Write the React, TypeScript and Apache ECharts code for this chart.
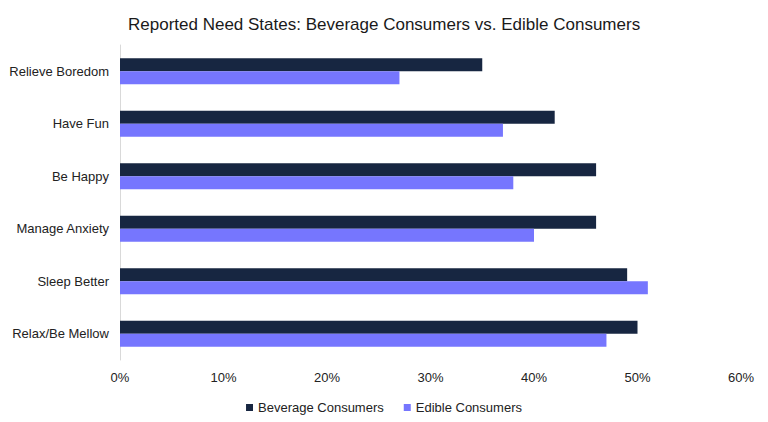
import React, { useRef, useEffect } from 'react';
import * as echarts from 'echarts';

const categories = [
  'Relieve Boredom',
  'Have Fun',
  'Be Happy',
  'Manage Anxiety',
  'Sleep Better',
  'Relax/Be Mellow',
];
const beverageValues = [35, 42, 46, 46, 49, 50];
const edibleValues = [27, 37, 38, 40, 51, 47];
const seriesNames = ['Beverage Consumers', 'Edible Consumers'];

const App: React.FC = () => {
  const chartRef = useRef<HTMLDivElement>(null);

  useEffect(() => {
    document.body.style.margin = '0';
    if (!chartRef.current) return;
    const chart = echarts.init(chartRef.current, null, { renderer: 'svg' });
    chart.setOption({
      animation: false,
      backgroundColor: '#ffffff',
      title: {
        text: 'Reported Need States: Beverage Consumers vs. Edible Consumers',
        left: 123,
        top: 11,
        textStyle: {
          fontFamily: 'Liberation Sans',
          fontSize: 17,
          fontWeight: 'normal',
          color: '#1a1a1a',
        },
      },
      legend: {
        data: seriesNames,
        left: 'center',
        top: 396,
        icon: 'rect',
        itemWidth: 7,
        itemHeight: 7,
        itemGap: 20,
        textStyle: {
          fontFamily: 'Liberation Sans',
          fontSize: 13,
          color: '#222',
        },
      },
      grid: {
        left: 120,
        right: 27,
        top: 45,
        bottom: 62,
        containLabel: false,
      },
      xAxis: {
        type: 'value',
        min: 0,
        max: 60,
        interval: 10,
        axisLine: { show: false },
        axisTick: { show: false },
        splitLine: { show: false },
        axisLabel: {
          formatter: '{value}%',
          margin: 11,
          fontFamily: 'Liberation Sans',
          fontSize: 13,
          color: '#222',
        },
      },
      yAxis: {
        type: 'category',
        data: categories,
        inverse: true,
        axisLine: { show: true, lineStyle: { color: '#d9d9d9', width: 1 } },
        axisTick: { show: false },
        axisLabel: {
          margin: 11,
          fontFamily: 'Liberation Sans',
          fontSize: 13,
          color: '#222',
        },
      },
      series: [
        {
          name: seriesNames[0],
          type: 'bar',
          data: beverageValues,
          barWidth: 13,
          barGap: '0%',
          itemStyle: { color: '#172641' },
        },
        {
          name: seriesNames[1],
          type: 'bar',
          data: edibleValues,
          barWidth: 13,
          barGap: '0%',
          itemStyle: { color: '#7676fe' },
        },
      ],
    });
    return () => {
      chart.dispose();
    };
  }, []);

  return <div ref={chartRef} style={{ width: 768, height: 422 }} />;
};

export default App;
